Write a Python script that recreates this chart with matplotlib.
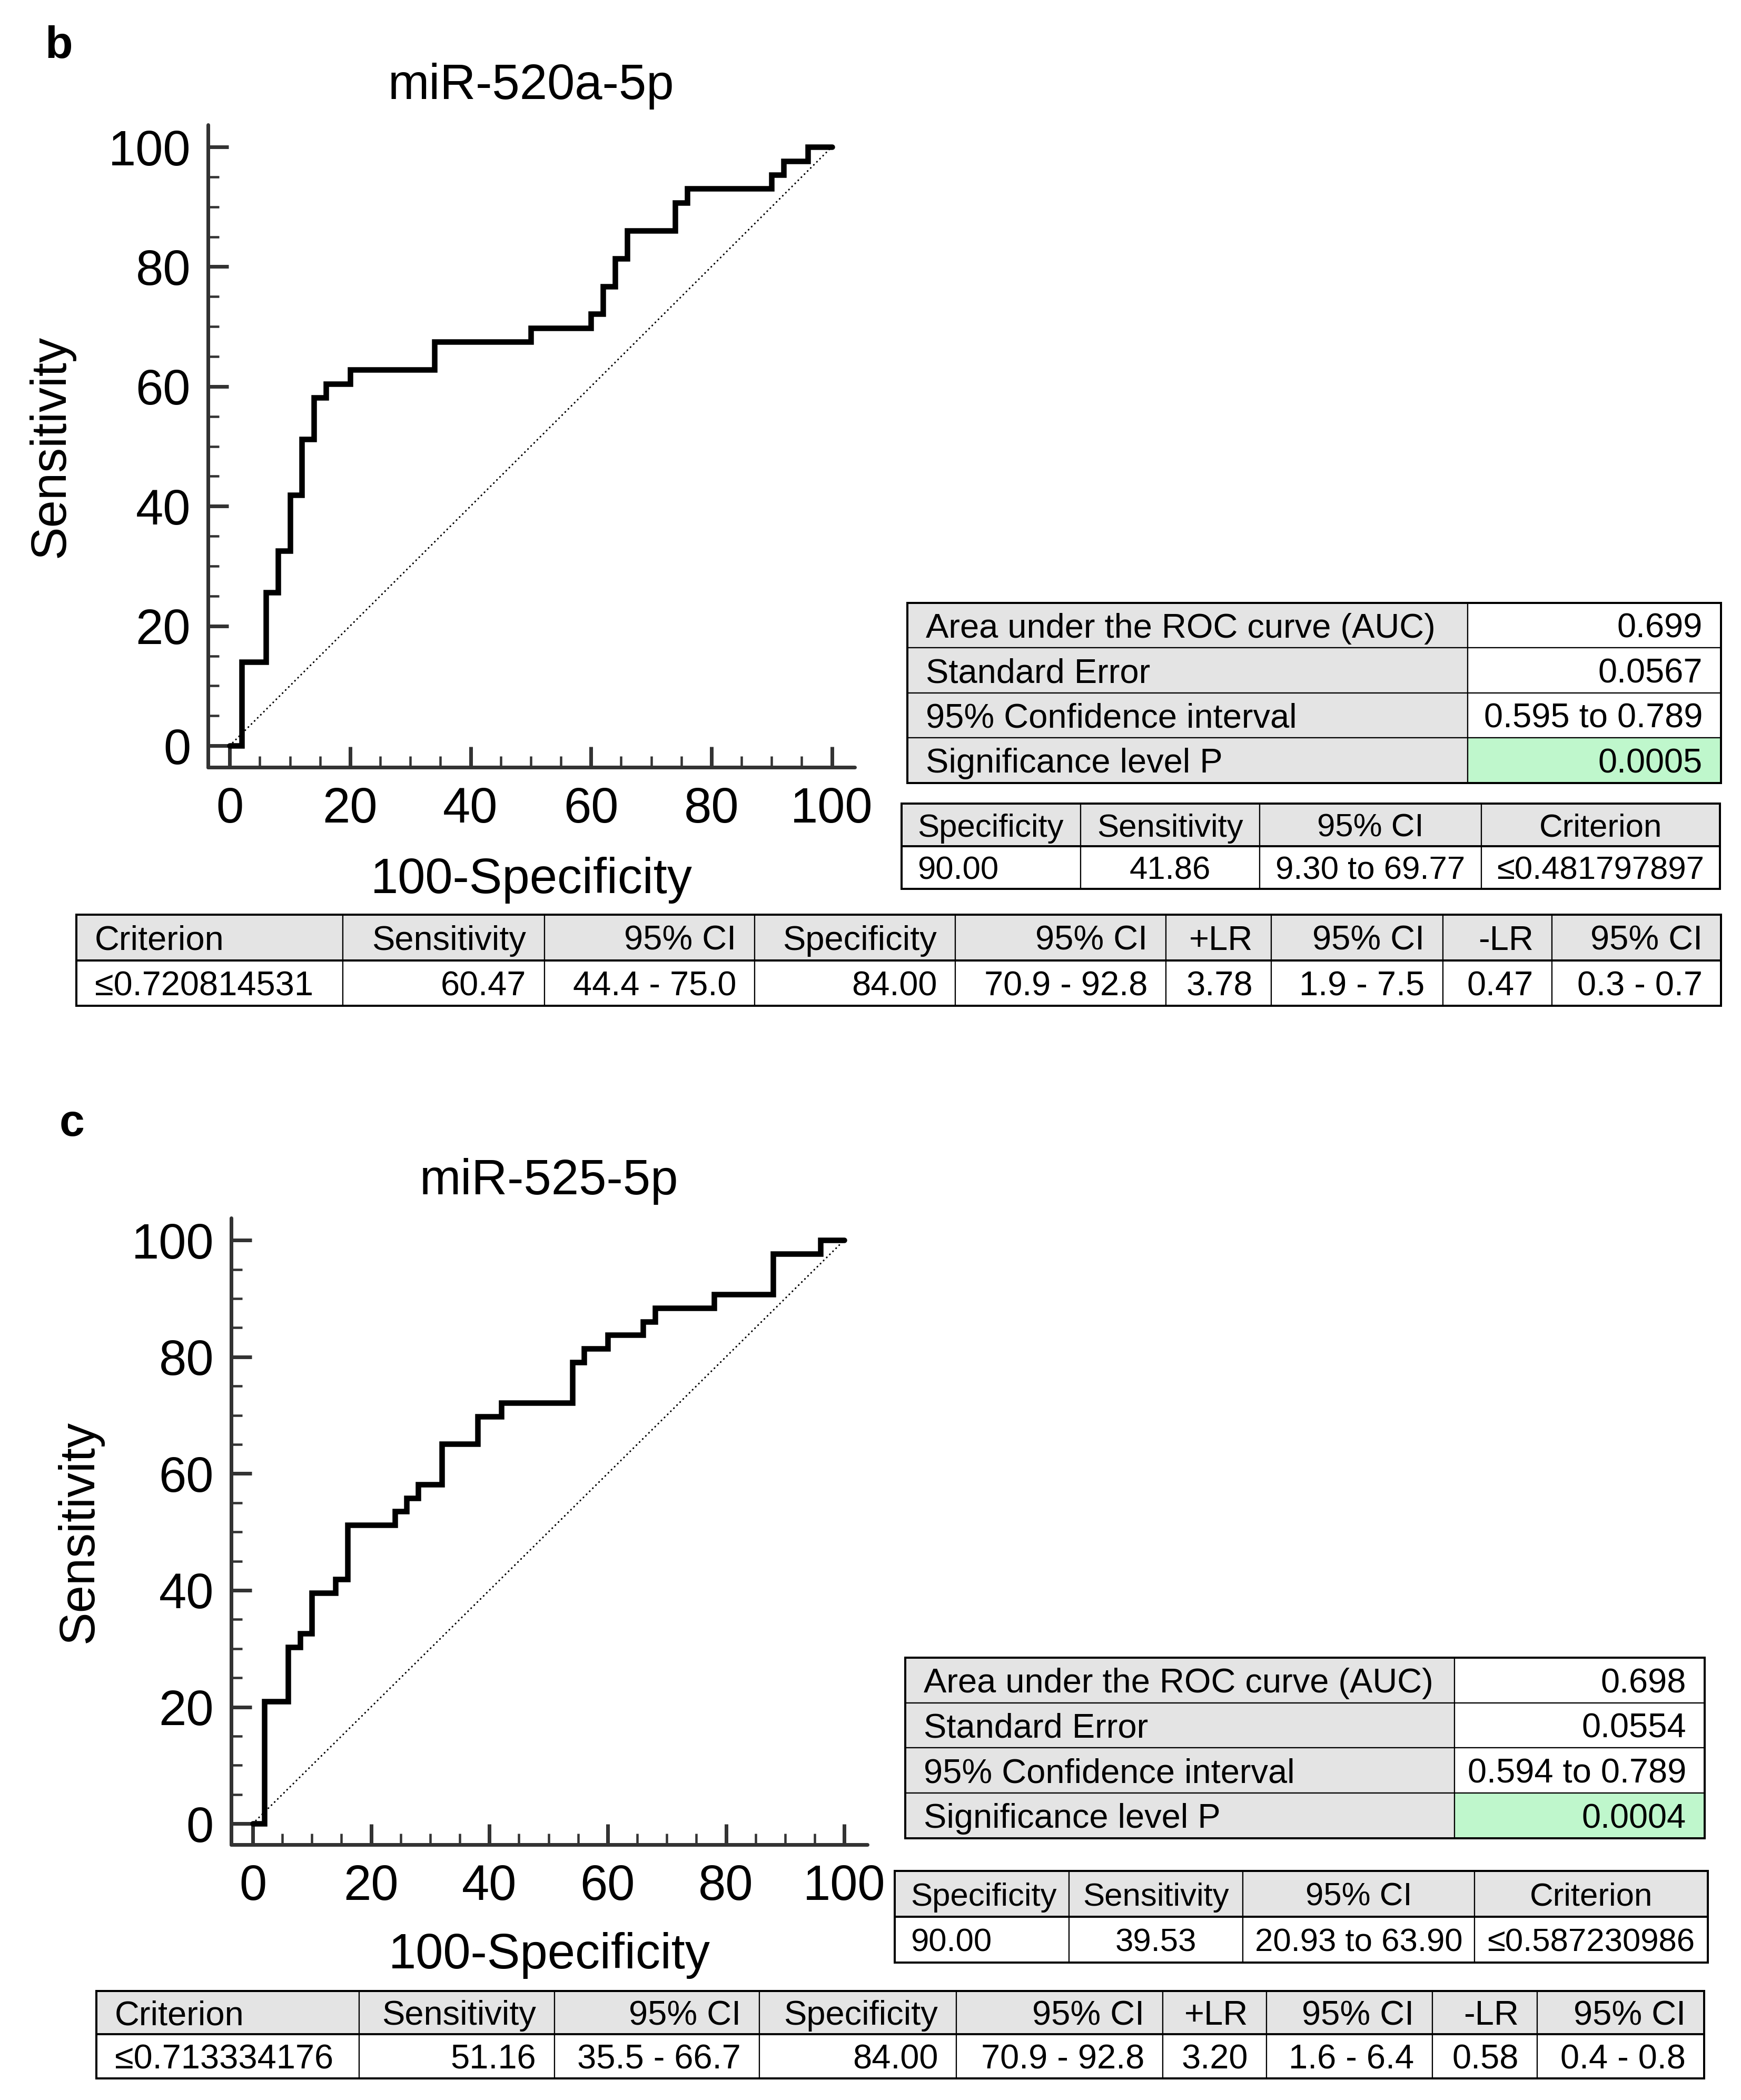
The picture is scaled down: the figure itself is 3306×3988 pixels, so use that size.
import matplotlib
matplotlib.use("Agg")
import matplotlib.pyplot as plt
from matplotlib.patches import Rectangle
from matplotlib.ticker import MultipleLocator

# canvas in pixels, dpi 100 -> 1 px = 0.72 pt
W, H = 3306, 3988
DPI = 100
PT = 72 / DPI

plt.rcParams['font.family'] = ['Liberation Sans', 'DejaVu Sans']

# ---- data ----
panel_tags = ['b', 'c']
titles = ['miR-520a-5p', 'miR-525-5p']

# ROC operating points (100-Specificity, Sensitivity)
fpr_520 = [0, 2, 6, 8, 10, 12, 14, 16, 20, 34, 50, 60, 62, 64, 66, 74, 76, 90, 92, 96, 100]
sens_520 = [0, 13.95, 25.58, 32.56, 41.86, 51.16, 58.14, 60.47, 62.79, 67.44, 69.77,
            72.09, 76.74, 81.40, 86.05, 90.70, 93.02, 95.35, 97.67, 100, 100]
fpr_525 = [0, 2, 6, 8, 10, 14, 16, 24, 26, 28, 32, 38, 42, 54, 56, 60, 66, 68, 78, 88, 96, 100]
sens_525 = [0, 20.93, 30.23, 32.56, 39.53, 41.86, 51.16, 53.49, 55.81, 58.14, 65.12,
            69.77, 72.09, 79.07, 81.40, 83.72, 86.05, 88.37, 90.70, 97.67, 100, 100]

auc_labels = ['Area under the ROC curve (AUC)', 'Standard Error',
              '95% Confidence interval', 'Significance level P']
auc_520 = ['0.699', '0.0567', '0.595 to 0.789', '0.0005']
auc_525 = ['0.698', '0.0554', '0.594 to 0.789', '0.0004']

cut_header = ['Specificity', 'Sensitivity', '95% CI', 'Criterion']
cut_520 = ['90.00', '41.86', '9.30 to 69.77', '≤0.481797897']
cut_525 = ['90.00', '39.53', '20.93 to 63.90', '≤0.587230986']

opt_header = ['Criterion', 'Sensitivity', '95% CI', 'Specificity', '95% CI',
              '+LR', '95% CI', '-LR', '95% CI']
opt_520 = ['≤0.720814531', '60.47', '44.4 - 75.0', '84.00', '70.9 - 92.8',
           '3.78', '1.9 - 7.5', '0.47', '0.3 - 0.7']
opt_525 = ['≤0.713334176', '51.16', '35.5 - 66.7', '84.00', '70.9 - 92.8',
           '3.20', '1.6 - 6.4', '0.58', '0.4 - 0.8']

# ---- layout (pixels, measured on the reference) ----
layout = [
    dict(tag=(85, 110), box=(395, 237, 1623, 1457), xlim=(-3.6, 103.8), ylim=(-3.6, 103.7),
         title_y=188, xlab_y=1696, ylab_x=122,
         auc_x=[1723, 2787, 3268], auc_y=[1145, 1230, 1316, 1401, 1487],
         cut_x=[1712, 2052, 2392, 2813, 3266], cut_y=[1526, 1607, 1688],
         opt_x=[145, 651, 1034, 1433, 1814, 2214, 2414, 2740, 2947, 3268], opt_y=[1737, 1824, 1910]),
    dict(tag=(113, 2157), box=(439, 2313, 1647, 3503), xlim=(-3.65, 103.9), ylim=(-3.6, 103.8),
         title_y=2268, xlab_y=3738, ylab_x=176,
         auc_x=[1719, 2762, 3237], auc_y=[3148, 3234, 3319, 3405, 3491],
         cut_x=[1699, 2030, 2360, 2800, 3243], cut_y=[3553, 3640, 3727],
         opt_x=[183, 682, 1053, 1442, 1816, 2208, 2405, 2720, 2919, 3236], opt_y=[3781, 3863, 3947]),
]

FS = 94 * PT      # axis text size
TFS = 65 * PT     # table text size
PAD = 35
GRAY = '#e4e4e4'
GREEN = '#bff7cc'
AX_COL = '#333333'

fig = plt.figure(figsize=(W / DPI, H / DPI), dpi=DPI)

# overlay axes in pixel units for texts and tables
bg = fig.add_axes([0, 0, 1, 1])
bg.set_xlim(0, W)
bg.set_ylim(H, 0)
bg.axis('off')


def put(x, y, s, size, ha='left', **kw):
    # y is the baseline
    bg.text(x, y, s, fontsize=size, ha=ha, va='baseline', **kw)


def draw_table(rows, xs, ys, aligns, fills, header_line=False, size=TFS):
    cap = 0.716 * size / PT
    for i, row in enumerate(rows):
        for j, txt in enumerate(row):
            x0, x1, y0, y1 = xs[j], xs[j + 1], ys[i], ys[i + 1]
            bg.add_patch(Rectangle((x0, y0), x1 - x0, y1 - y0, facecolor=fills[i][j],
                                   edgecolor='black', lw=2.2 * PT))
            al = aligns[i][j]
            pad = PAD if size == TFS else 30
            tx = {'left': x0 + pad, 'right': x1 - pad, 'center': (x0 + x1) / 2}[al]
            put(tx, (y0 + y1) / 2 + cap / 2, txt, size, ha=al)
    if header_line:
        bg.plot([xs[0], xs[-1]], [ys[1], ys[1]], color='black', lw=4 * PT)
    bg.add_patch(Rectangle((xs[0], ys[0]), xs[-1] - xs[0], ys[-1] - ys[0], fill=False,
                           edgecolor='black', lw=4 * PT))


curves = [(fpr_520, sens_520), (fpr_525, sens_525)]
aucs = [auc_520, auc_525]
cuts = [cut_520, cut_525]
opts = [opt_520, opt_525]

for k, L in enumerate(layout):
    l, t, r, b = L['box']
    ax = fig.add_axes([l / W, 1 - b / H, (r - l) / W, (b - t) / H])
    fpr, sens = curves[k]
    ax.plot([0, 100], [0, 100], color='black', lw=3.2 * PT,
            linestyle=(0, (0.1, 2.5)), dash_capstyle='round')
    ax.step(fpr, sens, where='post', color='black', lw=10.5 * PT,
            solid_joinstyle='miter', solid_capstyle='round')
    ax.set_xlim(*L['xlim'])
    ax.set_ylim(*L['ylim'])
    ax.patch.set_alpha(0)
    for side in ['top', 'right']:
        ax.spines[side].set_visible(False)
    for side in ['left', 'bottom']:
        ax.spines[side].set_linewidth(7 * PT)
        ax.spines[side].set_color(AX_COL)
        ax.spines[side].set_capstyle('round')
    ax.xaxis.set_major_locator(MultipleLocator(20))
    ax.yaxis.set_major_locator(MultipleLocator(20))
    ax.xaxis.set_minor_locator(MultipleLocator(5))
    ax.yaxis.set_minor_locator(MultipleLocator(5))
    ax.tick_params(which='major', direction='in', length=39 * PT, width=7 * PT,
                   color=AX_COL, labelsize=FS)
    ax.tick_params(which='minor', direction='in', length=21 * PT, width=4.5 * PT, color=AX_COL)
    ax.tick_params(axis='x', which='major', pad=36 * PT)
    ax.tick_params(axis='y', which='major', pad=33 * PT)

    cx = (l + r) / 2
    put(L['tag'][0], L['tag'][1], panel_tags[k], 86 * PT, fontweight='bold')
    put(cx, L['title_y'], titles[k], FS, ha='center')
    put(cx, L['xlab_y'], '100-Specificity', FS, ha='center')
    bg.text(L['ylab_x'], (t + b) / 2, 'Sensitivity', fontsize=FS, rotation=90,
            rotation_mode='anchor', ha='center', va='baseline')

    # AUC summary
    rows = [[lab, val] for lab, val in zip(auc_labels, aucs[k])]
    fills = [[GRAY, 'white'] for _ in rows]
    fills[-1][1] = GREEN
    draw_table(rows, L['auc_x'], L['auc_y'], [['left', 'right']] * 4, fills)

    # criterion at 90% specificity
    al = ['left', 'center', 'center', 'center']
    draw_table([cut_header, cuts[k]], L['cut_x'], L['cut_y'], [al, al],
               [[GRAY] * 4, ['white'] * 4], header_line=True, size=TFS * 0.95)

    # optimal criterion
    al = ['left'] + ['right'] * 8
    draw_table([opt_header, opts[k]], L['opt_x'], L['opt_y'], [al, al],
               [[GRAY] * 9, ['white'] * 9], header_line=True)

fig.savefig('out.png', dpi=DPI)
